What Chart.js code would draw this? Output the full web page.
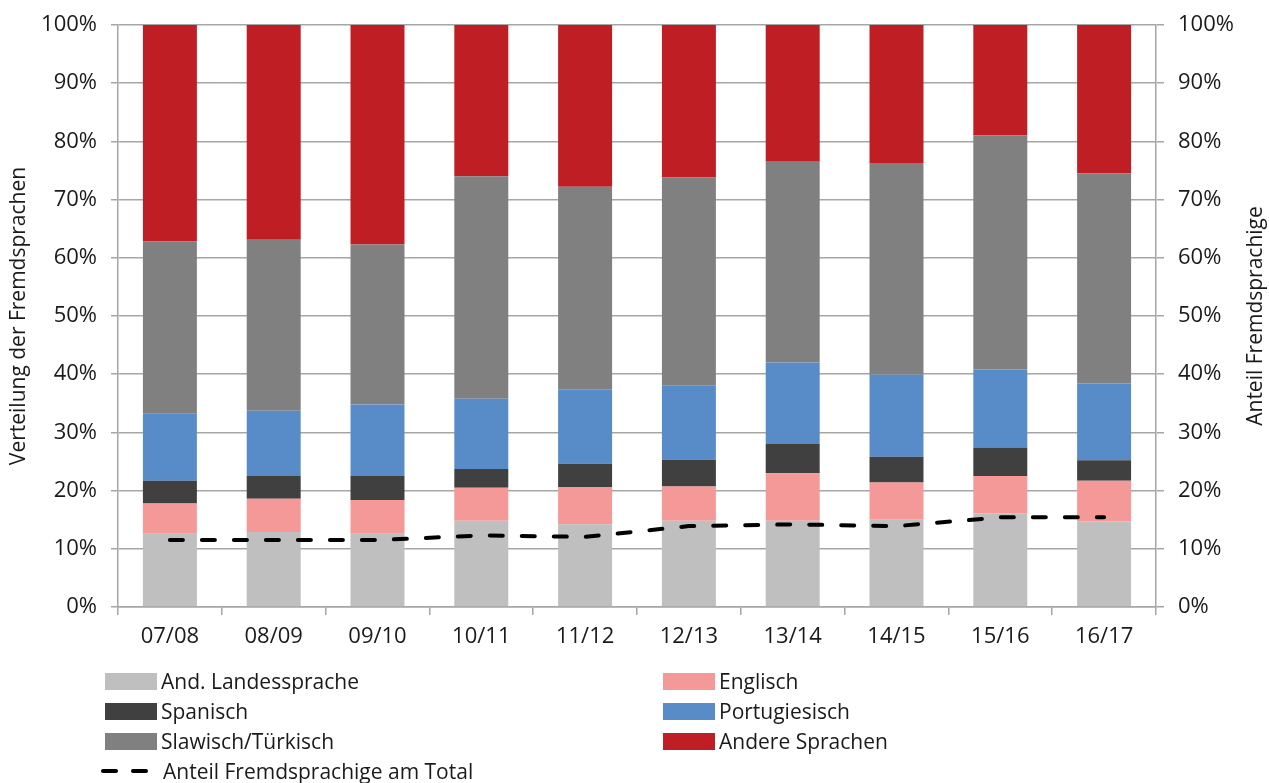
<!DOCTYPE html>
<html>
<head>
<meta charset="utf-8">
<script src="https://cdn.jsdelivr.net/npm/chart.js@4.4.1/dist/chart.umd.min.js"></script>
<style>
  body { margin: 0; background: #fff; font-family: "Open Sans", sans-serif; color: #1a1a1a; }
  #wrap { position: relative; width: 1269px; height: 650px; }
  #legend { position: absolute; left: 0; top: 0; width: 1269px; height: 783px; pointer-events: none; }
  .item { position: absolute; height: 30px; display: flex; align-items: center; font-size: 21px; white-space: nowrap; }
  .box { width: 52px; height: 17px; margin-right: 4px; }
  .dash { width: 46px; height: 4px; margin-right: 16px; margin-left: -2px; position: relative; }
  .dash span { position: absolute; top: 0; width: 17px; height: 4px; background: #000; border-radius: 2px; }
</style>
</head>
<body>
<div id="wrap"><canvas id="chart"></canvas></div>
<div id="legend"></div>
<script>
// Schuljahre
const years = ['07/08', '08/09', '09/10', '10/11', '11/12', '12/13', '13/14', '14/15', '15/16', '16/17'];

// Verteilung der Fremdsprachen (Anteile in %, von unten nach oben gestapelt)
const landessprache = [12.6, 12.9, 12.6, 14.8, 14.2, 14.8, 14.8, 15.0, 16.1, 14.7];
const englisch      = [5.2, 5.7, 5.8, 5.7, 6.4, 5.9, 8.2, 6.4, 6.4, 7.0];
const spanisch      = [3.9, 3.9, 4.1, 3.2, 4.0, 4.6, 5.0, 4.4, 4.9, 3.5];
const portugiesisch = [11.5, 11.2, 12.3, 12.1, 12.8, 12.8, 14.0, 14.1, 13.4, 13.2];
const slawisch      = [29.6, 29.4, 27.5, 38.2, 34.8, 35.7, 34.5, 36.4, 40.2, 36.1];
const andere        = [37.2, 36.9, 37.7, 26.0, 27.8, 26.2, 23.5, 23.7, 19.0, 25.5];

// Anteil Fremdsprachige am Total (rechte Achse)
const anteilTotal = [11.5, 11.5, 11.5, 12.3, 12.05, 13.9, 14.2, 13.9, 15.4, 15.4];

const yTicks = [0, 10, 20, 30, 40, 50, 60, 70, 80, 90, 100];

const gridColor = '#a6a6a6';
const font = { family: '"Open Sans", sans-serif', size: 22 };
const yFont = { family: '"Open Sans", sans-serif', size: 22, lineHeight: 1 };
const titleFont = { family: '"Open Sans", sans-serif', size: 21 };
const rightTitle = 'Anteil Fremdsprachige';

function bar(label, data, color) {
    return { type: 'bar', label: label, data: data, backgroundColor: color, borderWidth: 0,
             barPercentage: 0.52, categoryPercentage: 1, order: 1, yAxisID: 'y' };
}

const datasets = [
    bar('And. Landessprache', landessprache, '#bfbfbf'),
    bar('Englisch', englisch, '#f59898'),
    bar('Spanisch', spanisch, '#404040'),
    bar('Portugiesisch', portugiesisch, '#588cc8'),
    bar('Slawisch/Türkisch', slawisch, '#808080'),
    bar('Andere Sprachen', andere, '#be1e24'),
    {
        type: 'line', label: 'Anteil Fremdsprachige am Total', data: anteilTotal,
        borderColor: '#000', borderWidth: 4, borderDash: [13, 19], borderCapStyle: 'round',
        pointRadius: 0, tension: 0, fill: false, order: 0, yAxisID: 'y2'
    }
];

// Titel der rechten Achse, von unten nach oben gelesen wie links
const rightTitlePlugin = {
    id: 'rightTitle',
    afterDraw(c) {
        const ctx = c.ctx;
        const area = c.chartArea;
        ctx.save();
        ctx.translate(1256, (area.top + area.bottom) / 2);
        ctx.rotate(-Math.PI / 2);
        ctx.font = titleFont.size + 'px ' + titleFont.family;
        ctx.fillStyle = '#1a1a1a';
        ctx.textAlign = 'center';
        ctx.textBaseline = 'middle';
        ctx.fillText(rightTitle, 0, 0);
        ctx.restore();
    }
};

const chart = new Chart(document.getElementById('chart'), {
    data: { labels: years, datasets: datasets },
    plugins: [rightTitlePlugin],
    options: {
        responsive: true,
        maintainAspectRatio: false,
        animation: false,
        layout: { padding: { top: 24, left: 0, right: 0, bottom: 0 } },
        plugins: { legend: { display: false }, tooltip: { enabled: false } },
        scales: {
            x: {
                stacked: true,
                grid: { drawOnChartArea: false, drawTicks: true, tickLength: 8, color: gridColor, lineWidth: 1.5 },
                border: { color: gridColor, width: 1.5 },
                ticks: { color: '#1a1a1a', font: font, padding: 9 },
                afterFit: s => { s.height = 43; }
            },
            y: {
                stacked: true, min: 0, max: 100,
                afterBuildTicks: s => { s.ticks = yTicks.map(v => ({ value: v })); },
                ticks: { color: '#1a1a1a', font: yFont, padding: 14, callback: v => v + '%' },
                grid: { color: gridColor, lineWidth: 1.5, tickLength: 7 },
                border: { color: gridColor, width: 1.5 },
                title: { display: true, text: 'Verteilung der Fremdsprachen', color: '#1a1a1a', font: titleFont, padding: { top: 6, bottom: 0 } },
                afterFit: s => { s.width = 118; }
            },
            y2: {
                position: 'right', min: 0, max: 100,
                afterBuildTicks: s => { s.ticks = yTicks.map(v => ({ value: v })); },
                ticks: { color: '#1a1a1a', font: yFont, padding: 14, callback: v => v + '%' },
                grid: { drawOnChartArea: false, color: gridColor, lineWidth: 1.5, tickLength: 8 },
                border: { color: gridColor, width: 1.5 },
                afterFit: s => { s.width = 113; }
            }
        }
    }
});

// Legende in zwei Spalten unter dem Diagramm
const legend = document.getElementById('legend');
const colX = [105, 663];
chart.data.datasets.forEach((ds, i) => {
    const el = document.createElement('div');
    el.className = 'item';
    const isLine = ds.type === 'line';
    el.style.left = (isLine ? 103 : colX[i % 2]) + 'px';
    el.style.top = (666 + Math.floor(i / 2) * 30) + 'px';
    if (isLine) {
        el.innerHTML = '<div class="dash"><span style="left:0"></span><span style="left:30px"></span></div>' + ds.label;
    } else {
        el.innerHTML = '<div class="box" style="background:' + ds.backgroundColor + '"></div>' + ds.label;
    }
    legend.appendChild(el);
});
</script>
</body>
</html>
